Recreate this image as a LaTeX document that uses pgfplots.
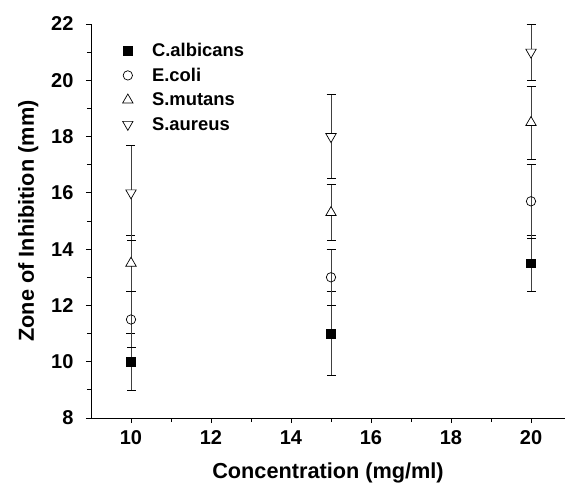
\documentclass[border=0pt]{standalone}
\usepackage{fontspec}
\setmainfont{Liberation Sans}
\usepackage{pgfplots}
\pgfplotsset{compat=1.18}

\begin{document}
\begin{tikzpicture}
\useasboundingbox (-91pt,-70pt) rectangle (474pt,418pt);
\begin{axis}[
    scale only axis,
    width=474pt, height=394pt,
    xmin=9, xmax=20.85,
    ymin=8, ymax=22,
    axis x line*=bottom,
    axis y line*=left,
    axis line style={-, line width=0.9pt},
    xtick={10,12,...,20},
    ytick={8,10,...,22},
    minor x tick num=1,
    minor y tick num=1,
    tick align=outside,
    major tick length=5pt,
    minor tick length=4pt,
    tick style={line width=0.8pt, black},
    /pgf/number format/assume math mode=true,
    ticklabel style={font=\bfseries\fontsize{20}{20}\selectfont},
    xticklabel style={yshift=-4pt},
    yticklabel style={xshift=-9pt},
    xlabel={Concentration (mg/ml)},
    ylabel={Zone of Inhibition (mm)},
    label style={font=\bfseries\fontsize{21.7}{21.7}\selectfont},
    xlabel style={yshift=-11pt},
    ylabel style={yshift=6pt},
    legend style={draw=none, fill=none, at={(0.06,0.962)}, anchor=north west,
        font=\bfseries\fontsize{18.4}{18.4}\selectfont, row sep=6pt,
        /tikz/every odd column/.append style={column sep=17pt}},
    legend cell align=left,
    every axis plot/.append style={only marks, line width=0.7pt},
    error bars/y dir=both,
    error bars/y explicit,
    error bars/error bar style={black!75, line width=0.7pt},
    error bars/error mark options={rotate=90, mark size=4.5pt, black, line width=0.7pt},
]
% C.albicans
\addplot[mark=square*, mark size=4.3pt, mark options={fill=black, draw=black}]
  coordinates {(10,10) +- (0,1) (15,11) +- (0,1.5) (20,13.5) +- (0,1)};
% E.coli
\addplot[mark=o, mark size=4.7pt, mark options={fill=white, draw=black}]
  coordinates {(10,11.5) +- (0,1) (15,13) +- (0,1) (20,15.7) +- (0,1.3)};
% S.mutans
\addplot[mark=triangle*, mark size=6pt, mark options={fill=white, draw=black}]
  coordinates {(10,13.5) +- (0,1) (15,15.3) +- (0,1) (20,18.5) +- (0,1.3)};
% S.aureus
\addplot[mark=triangle*, mark size=6pt, mark options={fill=white, draw=black, rotate=180}]
  coordinates {(10,16) +- (0,1.7) (15,18) +- (0,1.5) (20,21) +- (0,1)};
\legend{C.albicans, E.coli, S.mutans, S.aureus}
\end{axis}
\end{tikzpicture}
\end{document}
